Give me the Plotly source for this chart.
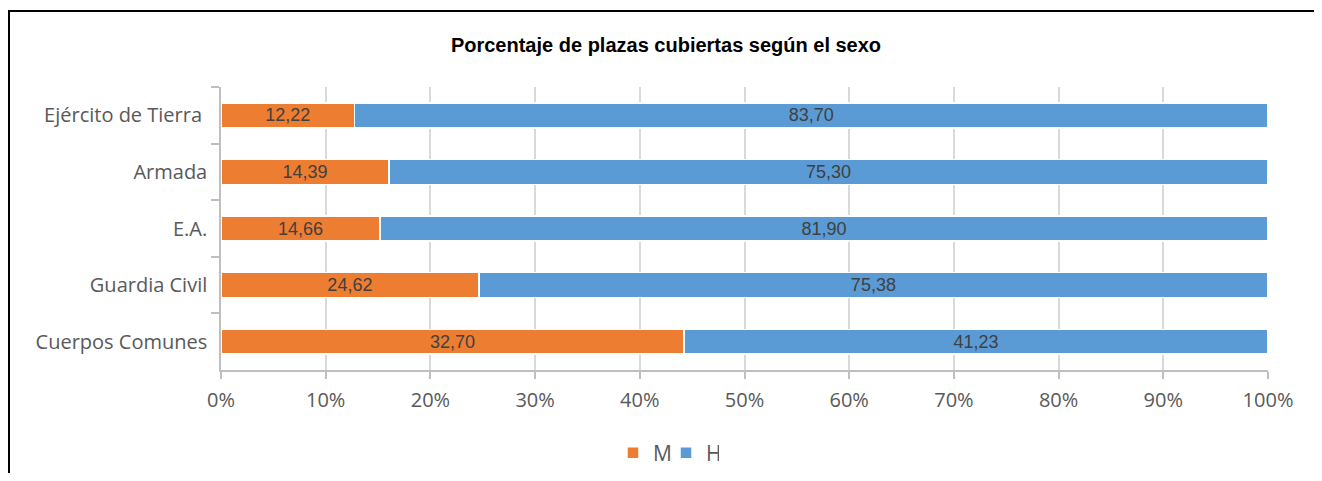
import plotly.graph_objects as go

categories = ["Ejército de Tierra ", "Armada", "E.A.", "Guardia Civil", "Cuerpos Comunes"]
m_values = [12.22, 14.39, 14.66, 24.62, 32.70]
h_values = [83.70, 75.30, 81.90, 75.38, 41.23]
x_ticks = [0, 10, 20, 30, 40, 50, 60, 70, 80, 90, 100]
x_tick_labels = [f"{v}%" for v in x_ticks]

def fmt(v):
    return f"{v:.2f}".replace(".", ",")

# page body has an 8px margin; figure coordinates = page coordinates - 8
OFF = 8
W, H = 1314, 465
L, R, T, B = 213, 54, 79, 103

fig = go.Figure()
for name, vals, color in [("M", m_values, "#ED7D31"), ("H", h_values, "#5B9BD5")]:
    fig.add_trace(go.Bar(
        name=name, y=categories, x=vals, orientation="h",
        marker=dict(color=color, line=dict(color="white", width=1.5)),
        text=[fmt(v) for v in vals], textposition="inside",
        insidetextanchor="middle", textangle=0, constraintext="none",
        textfont=dict(family="Liberation Sans, Arial", size=18, color="#404040"),
        hoverinfo="skip",
    ))

pw = W - L - R
ph = H - T - B
def px_x(p):
    return (p - OFF - L) / pw
def px_y(p):
    return (H - B - (p - OFF)) / ph

frame = dict(color="black", width=2)
fig.update_layout(
    width=W, height=H, barmode="stack", barnorm="percent", bargap=0.56,
    margin=dict(l=L, r=R, t=T, b=B, pad=0, autoexpand=False),
    paper_bgcolor="white", plot_bgcolor="white",
    title=dict(text="<b>Porcentaje de plazas cubiertas según el sexo</b>",
               x=px_x(666), xref="paper", xanchor="center",
               y=1 - (45 - OFF) / H, yanchor="middle",
               font=dict(family="Liberation Sans, Arial", size=20, color="black")),
    legend=dict(orientation="h", x=px_x(666), xanchor="center",
                y=px_y(453), yanchor="middle",
                font=dict(family="Open Sans", size=21, color="#595959"),
                traceorder="normal", entrywidth=8, entrywidthmode="pixels"),
    xaxis=dict(range=[0, 100], tickvals=x_ticks, ticktext=x_tick_labels,
               showgrid=True, gridcolor="#d9d9d9", gridwidth=1.5,
               showline=True, linecolor="#bfbfbf", linewidth=1.5,
               ticks="outside", ticklen=7, tickcolor="#bfbfbf", tickwidth=1.5,
               tickfont=dict(family="Open Sans", size=20, color="#595959"),
               ticklabelstandoff=4, zeroline=False, fixedrange=True),
    yaxis=dict(categoryorder="array", categoryarray=categories, autorange="reversed",
               showline=True, linecolor="#bfbfbf", linewidth=1.5,
               ticks="outside", ticklen=8, tickcolor="#bfbfbf", tickwidth=1.5,
               tickson="boundaries", showgrid=False,
               tickfont=dict(family="Open Sans", size=20, color="#595959"),
               ticklabelstandoff=8, fixedrange=True),
    shapes=[
        dict(type="line", xref="paper", yref="paper",
             x0=px_x(9), x1=px_x(1340), y0=px_y(11), y1=px_y(11), line=frame, layer="above"),
        dict(type="line", xref="paper", yref="paper",
             x0=px_x(9), x1=px_x(9), y0=px_y(10), y1=px_y(520), line=frame, layer="above"),
    ],
)

fig.write_html("out.html")
